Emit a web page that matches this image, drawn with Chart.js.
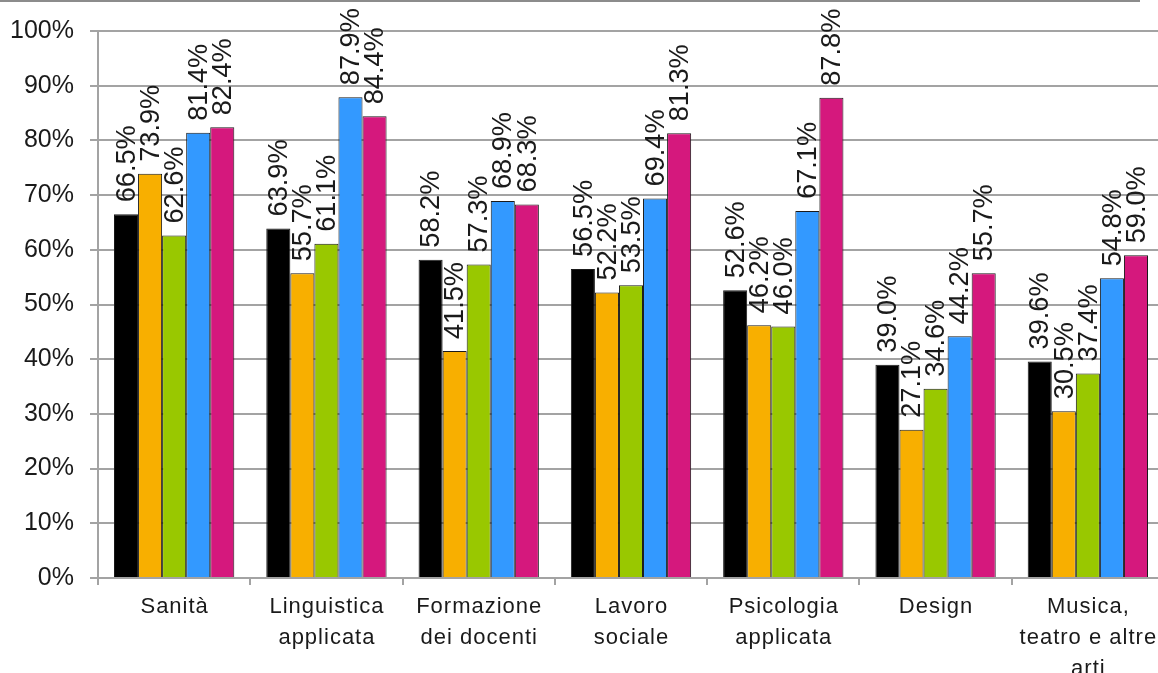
<!DOCTYPE html>
<html>
<head>
<meta charset="utf-8">
<script src="https://cdn.jsdelivr.net/npm/chart.js@4.4.0/dist/chart.umd.min.js"></script>
<style>
    html, body { margin: 0; padding: 0; background: #fff; overflow: hidden; }
    #wrap { width: 1158px; height: 673px; overflow: hidden; }
</style>
</head>
<body>
<div id="wrap"><canvas id="chart" width="1166" height="673"></canvas></div>
<script>
const categories = [
    ['Sanità'],
    ['Linguistica', 'applicata'],
    ['Formazione', 'dei docenti'],
    ['Lavoro', 'sociale'],
    ['Psicologia', 'applicata'],
    ['Design'],
    ['Musica,', 'teatro e altre', 'arti'],
];

const serie1 = [66.5, 63.9, 58.2, 56.5, 52.6, 39.0, 39.6];
const serie2 = [73.9, 55.7, 41.5, 52.2, 46.2, 27.1, 30.5];
const serie3 = [62.6, 61.1, 57.3, 53.5, 46.0, 34.6, 37.4];
const serie4 = [81.4, 87.9, 68.9, 69.4, 67.1, 44.2, 54.8];
const serie5 = [82.4, 84.4, 68.3, 81.3, 87.8, 55.7, 59.0];

const colors = ['#000000', '#F8AF00', '#99C800', '#3399FF', '#D5187D'];
const gridColor = '#A3A3A3';
const textColor = '#1A1A1A';

// percentage values written vertically above each bar
const valueLabels = {
    id: 'valueLabels',
    afterDatasetsDraw(chart) {
        const ctx = chart.ctx;
        ctx.save();
        ctx.fillStyle = textColor;
        ctx.font = '28px "Liberation Sans", Arial, sans-serif';
        ctx.textAlign = 'left';
        ctx.textBaseline = 'middle';
        chart.data.datasets.forEach((ds, d) => {
            chart.getDatasetMeta(d).data.forEach((bar, i) => {
                ctx.save();
                ctx.translate(bar.x, bar.y - 12);
                ctx.rotate(-Math.PI / 2);
                ctx.scale(0.97, 1);
                ctx.fillText(ds.data[i].toFixed(1) + '%', 0, 1);
                ctx.restore();
            });
        });
        ctx.restore();
    },
};

// category names under the axis, slightly spaced out
const categoryLabels = {
    id: 'categoryLabels',
    afterDraw(chart) {
        const ctx = chart.ctx;
        const xScale = chart.scales.x;
        ctx.save();
        ctx.fillStyle = textColor;
        ctx.font = '22px "Liberation Sans", Arial, sans-serif';
        ctx.letterSpacing = '1px';
        ctx.textAlign = 'center';
        ctx.textBaseline = 'middle';
        categories.forEach((lines, i) => {
            const x = xScale.getPixelForValue(i) + 0.5;
            lines.forEach((line, j) => {
                ctx.fillText(line, x, xScale.top + 29 + j * 31);
            });
        });
        ctx.restore();
    },
};

const topRule = {
    id: 'topRule',
    beforeDraw(chart) {
        const ctx = chart.ctx;
        ctx.save();
        ctx.strokeStyle = '#8C8C8C';
        ctx.lineWidth = 2;
        ctx.beginPath();
        ctx.moveTo(0, 1);
        ctx.lineTo(1140, 1);
        ctx.stroke();
        ctx.restore();
    },
};

const series = [serie1, serie2, serie3, serie4, serie5];

const datasets = series.map((values, k) => ({
    label: 'Serie ' + (k + 1),
    data: values,
    backgroundColor: colors[k],
    borderColor: '#1A1A1A',
    borderWidth: 1,
    categoryPercentage: 0.79,
    barPercentage: 1.0,
}));

new Chart(document.getElementById('chart'), {
    type: 'bar',
    data: {
        labels: categories,
        datasets: datasets,
    },
    options: {
        responsive: false,
        animation: false,
        devicePixelRatio: 1,
        layout: { padding: { top: 27, right: 2, left: 0, bottom: 0 } },
        plugins: {
            legend: { display: false },
            tooltip: { enabled: false },
        },
        scales: {
            x: {
                offset: true,
                grid: {
                    offset: true,
                    drawOnChartArea: false,
                    drawTicks: true,
                    tickLength: 7,
                    color: gridColor,
                    lineWidth: 2,
                },
                border: { display: false },
                ticks: { display: false },
                afterFit(scale) { scale.height = 95; },
            },
            y: {
                min: 0,
                max: 100,
                ticks: {
                    stepSize: 10,
                    padding: 16,
                    color: textColor,
                    font: { family: '"Liberation Sans", Arial, sans-serif', size: 25 },
                    callback: (v) => v + '%',
                },
                grid: {
                    color: gridColor,
                    lineWidth: 2,
                    tickLength: 8,
                },
                border: { color: gridColor, width: 2 },
                afterFit(scale) { scale.width = 98; },
            },
        },
    },
    plugins: [topRule, valueLabels, categoryLabels],
});
</script>
</body>
</html>
